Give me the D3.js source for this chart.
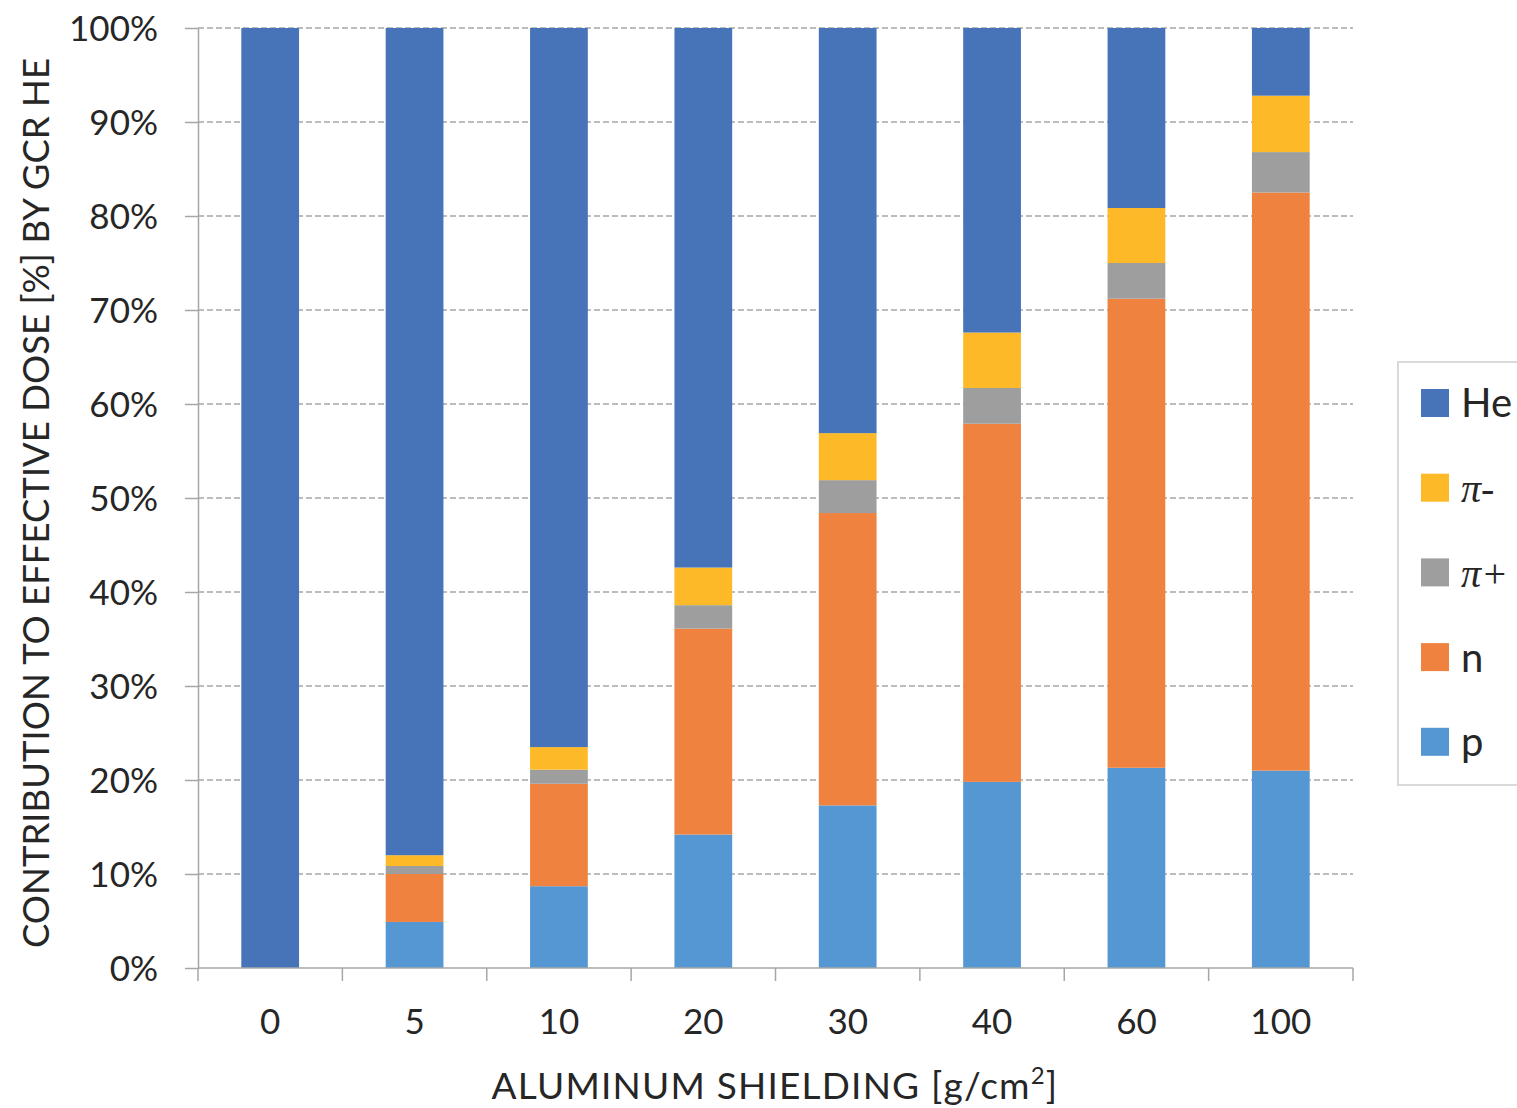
<!DOCTYPE html>
<html>
<head>
<meta charset="utf-8">
<script src="https://cdn.jsdelivr.net/npm/d3@7"></script>
<style>
  body { margin: 0; background: #fff; }
  text { font-family: Lato, "Open Sans", sans-serif; fill: #262626; }
</style>
</head>
<body>
<svg id="chart" width="1517" height="1108"></svg>
<script>
const categories = ['0', '5', '10', '20', '30', '40', '60', '100'];
const pValues     = [0, 4.9, 8.7, 14.2, 17.3, 19.8, 21.3, 21.0];
const nValues     = [0, 5.1, 10.9, 21.9, 31.1, 38.1, 49.9, 61.5];
const piPlusVals  = [0, 0.85, 1.5, 2.5, 3.5, 3.8, 3.8, 4.3];
const piMinusVals = [0, 1.15, 2.4, 4.0, 5.0, 5.9, 5.85, 6.0];
const heValues    = [100, 88.0, 76.5, 57.4, 43.1, 32.4, 19.15, 7.2];
const yTicks = [0, 10, 20, 30, 40, 50, 60, 70, 80, 90, 100];

const seriesKeys = ['p', 'n', 'piPlus', 'piMinus', 'He'];
const colors = { p: '#5597D3', n: '#F0823F', piPlus: '#9E9E9E', piMinus: '#FDB927', He: '#4774B9' };

const rows = categories.map((c, i) => ({
  cat: c, p: pValues[i], n: nValues[i], piPlus: piPlusVals[i], piMinus: piMinusVals[i], He: heValues[i]
}));

const svg = d3.select('#chart');
const mLeft = 198, mRight = 1353, mTop = 28, mBottom = 968;

const x = d3.scaleBand().domain(categories).range([mLeft, mRight]).paddingInner(0.6).paddingOuter(0.3);
const xb = d3.scaleBand().domain(categories).range([mLeft, mRight]);
const y = d3.scaleLinear().domain([0, 100]).range([mBottom, mTop]);

// gridlines
svg.append('g').selectAll('line').data(yTicks.filter(d => d > 0)).enter().append('line')
  .attr('x1', mLeft).attr('x2', mRight)
  .attr('y1', d => y(d)).attr('y2', d => y(d))
  .attr('stroke', '#a6a6a6').attr('stroke-width', 1.3)
  .attr('stroke-dasharray', '6,3');

const stack = d3.stack().keys(seriesKeys);
const layers = stack(rows);

svg.append('g').selectAll('g').data(layers).enter().append('g')
  .attr('fill', d => colors[d.key])
  .selectAll('rect').data(d => d).enter().append('rect')
    .attr('x', d => x(d.data.cat))
    .attr('width', x.bandwidth())
    .attr('y', d => y(d[1]))
    .attr('height', d => y(d[0]) - y(d[1]));

// y axis
const yAxis = svg.append('g').attr('transform', `translate(${mLeft},0)`)
  .call(d3.axisLeft(y).tickValues(yTicks).tickFormat(d => d + '%').tickSize(13).tickSizeOuter(0));
yAxis.select('.domain').attr('stroke', '#a6a6a6').attr('stroke-width', 1.5);
yAxis.selectAll('.tick line').attr('stroke', '#a6a6a6').attr('stroke-width', 1.5);
yAxis.selectAll('.tick text').attr('font-size', 35).attr('x', -40).attr('dy', '0.36em')
  .style('font-family', 'Lato, "Open Sans", sans-serif').attr('fill', '#262626');

// x axis
const xAxisG = svg.append('g').attr('transform', `translate(0,${mBottom})`);
xAxisG.append('line').attr('x1', mLeft).attr('x2', mRight).attr('stroke', '#a6a6a6').attr('stroke-width', 1.5);
xAxisG.selectAll('.xtick').data(categories.concat(['__end'])).enter().append('line')
  .attr('x1', (d, i) => i < categories.length ? xb(d) : mRight)
  .attr('x2', (d, i) => i < categories.length ? xb(d) : mRight)
  .attr('y1', 0).attr('y2', 13)
  .attr('stroke', '#a6a6a6').attr('stroke-width', 1.5);
xAxisG.selectAll('.xlabel').data(categories).enter().append('text')
  .attr('x', d => xb(d) + xb.bandwidth() / 2)
  .attr('y', 66)
  .attr('text-anchor', 'middle')
  .attr('font-size', 35)
  .text(d => d);

// axis titles
svg.append('text')
  .attr('transform', `translate(49,${(mTop + mBottom) / 2 + 5}) rotate(-90)`)
  .attr('text-anchor', 'middle').attr('font-size', 36.5)
  .text('CONTRIBUTION TO EFFECTIVE DOSE [%] BY GCR HE');

const xt = svg.append('text')
  .attr('x', 775).attr('y', 1099)
  .attr('text-anchor', 'middle').attr('font-size', 37)
  .attr('letter-spacing', 1.2)
  .text('ALUMINUM SHIELDING [g/cm');
xt.append('tspan').attr('font-size', 24).attr('dy', -15).text('2');
xt.append('tspan').attr('dy', 15).text(']');

// legend
const legendItems = [
  { key: 'He', label: 'He', italic: false },
  { key: 'piMinus', label: 'π-', italic: true },
  { key: 'piPlus', label: 'π+', italic: true },
  { key: 'n', label: 'n', italic: false },
  { key: 'p', label: 'p', italic: false }
];
const lg = svg.append('g');
lg.append('rect').attr('x', 1398).attr('y', 362).attr('width', 140).attr('height', 423)
  .attr('fill', '#fff').attr('stroke', '#d9d9d9').attr('stroke-width', 2);
const li = lg.selectAll('g.item').data(legendItems).enter().append('g')
  .attr('transform', (d, i) => `translate(1421,${403 + i * 84.7})`);
li.append('rect').attr('x', 0).attr('y', -14).attr('width', 28).attr('height', 28)
  .attr('fill', d => colors[d.key]);
li.append('text').attr('x', 40).attr('y', 0).attr('dy', '0.36em')
  .attr('font-size', d => d.italic ? 40 : 40)
  .style('font-style', d => d.italic ? 'italic' : 'normal')
  .style('font-family', d => d.italic ? '"Liberation Serif", serif' : 'Lato, "Open Sans", sans-serif')
  .text(d => d.label);
</script>
</body>
</html>
